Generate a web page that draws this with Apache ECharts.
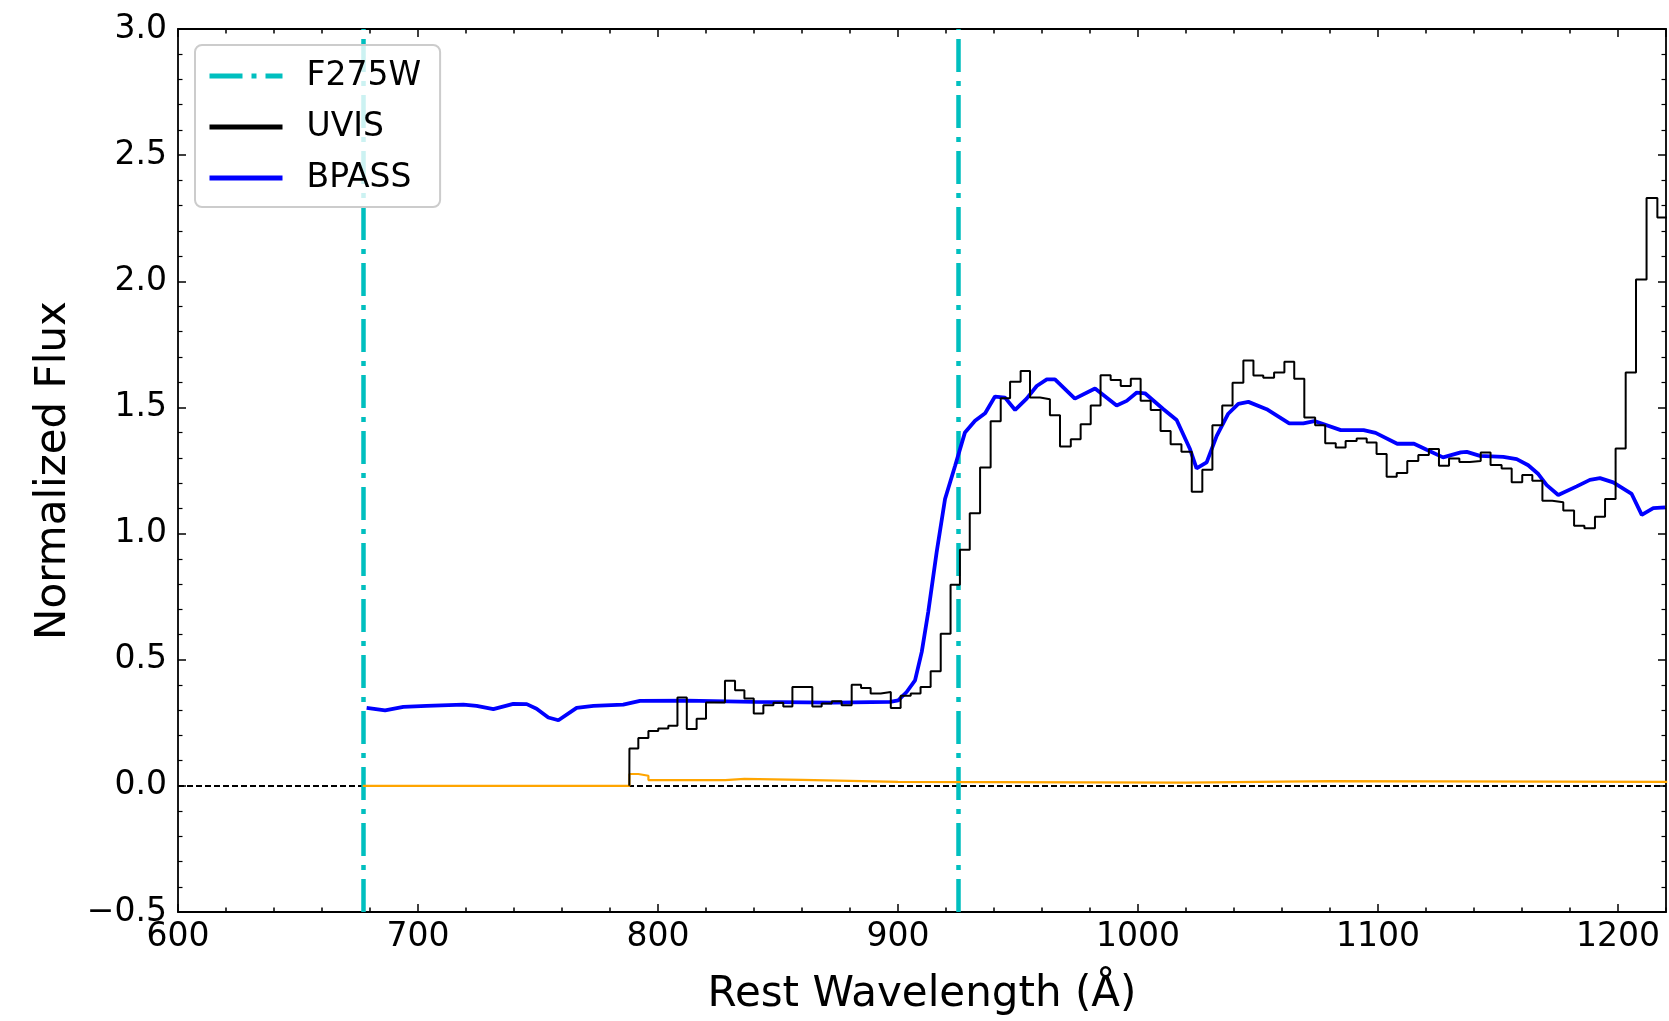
<!DOCTYPE html>
<html>
<head>
<meta charset="utf-8">
<title>Normalized Flux</title>
<script src="https://cdn.jsdelivr.net/npm/echarts@6/dist/echarts.min.js"></script>
<style>
    html, body { margin: 0; padding: 0; background: #fff; }
    #chart { width: 1669px; height: 1021px; }
</style>
</head>
<body>
<div id="chart"></div>
<script>
// UVIS histogram: left bin edges (last value = right end), flux per bin
var uvisEdges = [788.1, 791.8, 796.0, 800.1, 804.3, 808.1, 812.0, 816.1, 820.0, 824.0, 827.9, 832.1, 836.0, 839.9, 843.9, 848.1, 852.2, 856.0, 860.1, 864.3, 868.2, 872.4,
    876.5, 880.7, 884.6, 888.6, 892.8, 897.0, 901.1, 905.3, 909.4, 913.6, 917.8, 921.9, 925.8, 929.9, 934.2, 938.6, 942.8, 946.7, 951.1, 955.0, 959.2,
    963.3, 967.5, 972.0, 976.1, 980.3, 984.4, 988.6, 992.8, 997.0, 1001.1, 1005.3, 1009.4, 1013.6, 1018.1, 1022.4, 1026.8, 1031.0, 1035.1, 1039.4, 1043.9, 1048.1,
    1052.2, 1056.7, 1061.0, 1065.1, 1069.3, 1073.8, 1078.0, 1082.4, 1086.5, 1091.1, 1095.3, 1099.4, 1103.6, 1107.8, 1112.2, 1116.8, 1121.2, 1125.4, 1129.6, 1133.9,
    1138.3, 1142.8, 1146.9, 1151.5, 1155.7, 1160.1, 1164.3, 1168.5, 1172.6, 1177.2, 1181.7, 1186.0, 1190.4, 1194.6, 1199.0, 1203.2, 1207.5, 1211.9, 1216.4, 1220.5];
var uvisFlux = [0.148, 0.19, 0.217, 0.227, 0.238, 0.35, 0.225, 0.266, 0.33, 0.33, 0.417, 0.379, 0.346, 0.287, 0.32, 0.329, 0.315, 0.392, 0.392, 0.315, 0.326, 0.335,
    0.32, 0.401, 0.388, 0.366, 0.372, 0.309, 0.357, 0.366, 0.392, 0.454, 0.603, 0.797, 0.936, 1.081, 1.262, 1.445, 1.536, 1.602, 1.644, 1.539, 1.532,
    1.469, 1.345, 1.374, 1.433, 1.508, 1.628, 1.609, 1.585, 1.614, 1.526, 1.49, 1.407, 1.354, 1.324, 1.166, 1.253, 1.429, 1.508, 1.598, 1.686, 1.627,
    1.618, 1.638, 1.681, 1.614, 1.46, 1.429, 1.358, 1.341, 1.367, 1.377, 1.361, 1.315, 1.225, 1.24, 1.288, 1.311, 1.335, 1.269, 1.298, 1.284,
    1.288, 1.321, 1.272, 1.258, 1.203, 1.232, 1.209, 1.13, 1.124, 1.091, 1.031, 1.021, 1.067, 1.137, 1.337, 1.638, 2.007, 2.33, 2.253];

// BPASS model
var bpassWave = [678.6, 686.3, 693.9, 703.6, 718.9, 724.4, 731.4, 739.7, 745.3, 749.4, 754.3, 758.5, 766.1, 773.1, 785.5, 792.5, 811.9, 839.7, 873.0,
    896.7, 900.1, 903.6, 907.1, 909.9, 912.6, 916.1, 919.6, 923.8, 927.9, 932.1, 936.3, 940.4, 944.6, 948.8, 953.6, 957.8, 962.0, 965.4, 973.7,
    982.1, 991.1, 995.3, 999.5, 1002.9, 1010.6, 1016.1, 1021.7, 1024.4, 1028.6, 1032.8, 1037.6, 1041.8, 1046.0, 1053.6, 1063.0, 1068.9, 1073.5,
    1084.5, 1094.0, 1099.0, 1108.0, 1115.0, 1120.3, 1127.1, 1134.5, 1137.0, 1142.5, 1152.2, 1157.8, 1162.6, 1166.8, 1170.3, 1175.1, 1182.8,
    1188.3, 1192.5, 1198.0, 1205.7, 1209.9, 1214.7, 1219.6];
var bpassFlux = [0.309, 0.299, 0.313, 0.317, 0.322, 0.317, 0.304, 0.325, 0.324, 0.306, 0.271, 0.26, 0.309, 0.317, 0.322, 0.337, 0.338, 0.333, 0.33,
    0.333, 0.339, 0.372, 0.418, 0.531, 0.689, 0.926, 1.137, 1.269, 1.401, 1.447, 1.477, 1.543, 1.539, 1.49, 1.535, 1.585, 1.611, 1.611, 1.535,
    1.575, 1.508, 1.526, 1.559, 1.556, 1.493, 1.45, 1.334, 1.258, 1.282, 1.387, 1.475, 1.514, 1.522, 1.493, 1.437, 1.437, 1.446,
    1.41, 1.41, 1.399, 1.356, 1.356, 1.332, 1.302, 1.322, 1.324, 1.308, 1.304, 1.295, 1.271, 1.236, 1.192, 1.153, 1.187,
    1.213, 1.22, 1.203, 1.157, 1.074, 1.101, 1.104];

// error spectrum (orange)
var errWave = [677, 788.1, 791.8, 796.0, 828.0, 836.0, 860.0, 880.0, 900.0, 1020.0, 1080.0, 1220.5];
var errFlux = [0.0, 0.047, 0.04, 0.023, 0.028, 0.024, 0.02, 0.016, 0.013, 0.019, 0.016, 0.016];

// filter edges
var filterEdges = [677, 925];

var xTicks = {min: 600, max: 1220, major: 100, minor: 20};
var yTicks = {min: -0.5, max: 3.0, major: 0.5};

function pairs(xs, ys) {
    var out = [];
    for (var i = 0; i < ys.length; i++) {
        out.push([xs[i], ys[i]]);
    }
    return out;
}

var FONT = 'DejaVu Sans';
var uvisData = [[uvisEdges[0] - 0.05, 0]].concat(pairs(uvisEdges, uvisFlux));
uvisData.push([uvisEdges[uvisEdges.length - 1], uvisFlux[uvisFlux.length - 1]]);

function xAxisOf(position, interval, tickLen, showLabel, showLine) {
    return {
        type: 'value', position: position, offset: 0,
        min: xTicks.min, max: xTicks.max, interval: interval,
        axisLine: {show: showLine, onZero: false, lineStyle: {color: '#000', width: 1.8}},
        axisTick: {show: true, inside: true, length: tickLen, lineStyle: {color: '#000', width: 1.5}},
        axisLabel: {
            show: showLabel, color: '#000', fontSize: 33, fontFamily: FONT, margin: 9, showMaxLabel: false,
            formatter: function (v) {
                return String(v);
            }
        },
        splitLine: {show: false}
    };
}

function yAxisOf(position, showLabel) {
    return {
        type: 'value', position: position,
        min: yTicks.min, max: yTicks.max, interval: yTicks.major,
        axisLine: {show: true, onZero: false, lineStyle: {color: '#000', width: 1.8}},
        axisTick: {show: true, inside: true, length: 8, lineStyle: {color: '#000', width: 1.5}},
        minorTick: {show: true, splitNumber: 5, length: 4.5, lineStyle: {color: '#000', width: 1.2}},
        axisLabel: {
            show: showLabel, color: '#000', fontSize: 33, fontFamily: FONT, margin: 11,
            formatter: function (v) {
                return v.toFixed(1).replace('-', '\u2212');
            }
        },
        splitLine: {show: false},
        minorSplitLine: {show: false}
    };
}

var xBottom = xAxisOf('bottom', xTicks.major, 8, true, true);
xBottom.name = 'Rest Wavelength (\u00c5)';
xBottom.nameLocation = 'middle';
xBottom.nameGap = 62;
xBottom.nameTextStyle = {color: '#000', fontSize: 42, fontFamily: FONT};

var yLeft = yAxisOf('left', true);
yLeft.name = 'Normalized Flux';
yLeft.nameLocation = 'middle';
yLeft.nameGap = 103;
yLeft.nameTextStyle = {color: '#000', fontSize: 42, fontFamily: FONT};

var option = {
    animation: false,
    backgroundColor: '#fff',
    grid: {left: 178, right: 3, top: 29, bottom: 107, containLabel: false},
    legend: {
        data: ['F275W', 'UVIS', 'BPASS'],
        zlevel: 1,
        z: 10,
        orient: 'vertical',
        left: 195, top: 45,
        padding: [14, 19, 12, 12],
        itemWidth: 73, itemHeight: 20, itemGap: 17,
        backgroundColor: 'rgba(255,255,255,0.8)',
        borderColor: '#cccccc', borderWidth: 2, borderRadius: 7,
        lineStyle: {width: 5},
        itemStyle: {opacity: 0, borderWidth: 0},
        textStyle: {color: '#000', fontSize: 33, fontFamily: FONT, lineHeight: 34, padding: [0, 0, 0, 19]}
    },
    xAxis: [
        xBottom,
        xAxisOf('bottom', xTicks.minor, 4.5, false, false),
        xAxisOf('top', xTicks.major, 8, false, true),
        xAxisOf('top', xTicks.minor, 4.5, false, false)
    ],
    yAxis: [yLeft, yAxisOf('right', false)],
    series: [
        {
            name: 'zero', type: 'line', data: [], silent: true,
            markLine: {
                silent: true, z: 1, symbol: ['none', 'none'], label: {show: false},
                lineStyle: {color: '#000', type: [6, 3], width: 1.8},
                data: [{yAxis: 0}]
            }
        },
        {
            name: 'BPASS', type: 'line', data: pairs(bpassWave, bpassFlux),
            symbol: 'none', smooth: false, clip: true,
            itemStyle: {color: '#0000ff'},
            lineStyle: {color: '#0000ff', width: 3.8}
        },
        {
            name: 'error', type: 'line', data: pairs(errWave, errFlux),
            step: 'end', symbol: 'none', clip: true,
            itemStyle: {color: '#ffa500'},
            lineStyle: {color: '#ffa500', width: 2.2}
        },
        {
            name: 'UVIS', type: 'line', data: uvisData,
            step: 'end', symbol: 'none', clip: true,
            itemStyle: {color: '#000'},
            lineStyle: {color: '#000', width: 2}
        },
        {
            name: 'F275W', type: 'line', data: [],
            symbol: 'none',
            itemStyle: {color: '#00bfbf'},
            lineStyle: {color: '#00bfbf', width: 4.5, type: [33, 9, 5, 9]},
            markLine: {
                silent: true, z: 3, symbol: ['none', 'none'], label: {show: false},
                lineStyle: {color: '#00bfbf', width: 4.5, type: [33, 9, 5, 9]},
                data: filterEdges.map(function (w) { return {xAxis: w}; })
            }
        }
    ]
};

var myChart = echarts.init(document.getElementById('chart'));
myChart.setOption(option);
</script>
</body>
</html>
